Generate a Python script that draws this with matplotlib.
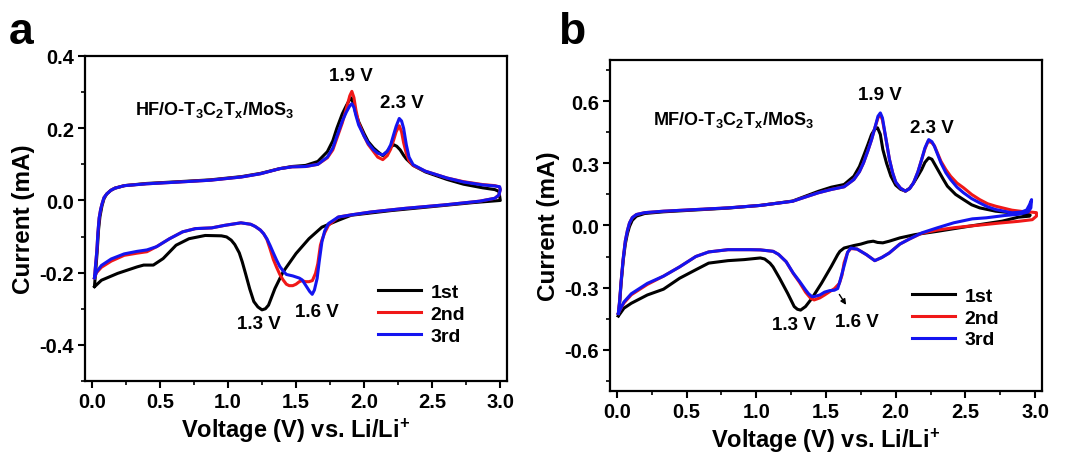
import matplotlib
matplotlib.use("Agg")
import matplotlib.pyplot as plt
from matplotlib.ticker import MultipleLocator

plt.rcParams["font.family"] = ["Liberation Sans", "DejaVu Sans"]
plt.rcParams["font.weight"] = "bold"
plt.rcParams["axes.unicode_minus"] = False
plt.rcParams["mathtext.fontset"] = "custom"
plt.rcParams["mathtext.rm"] = "Liberation Sans:bold"
plt.rcParams["mathtext.bf"] = "Liberation Sans:bold"
plt.rcParams["mathtext.default"] = "bf"

# ---- panel a: HF/O-T3C2Tx/MoS3, one closed loop per cycle (anodic 0->3 V, then cathodic 3->0 V)
a_1st_v = [0.02, 0.03, 0.04, 0.05, 0.06, 0.075, 0.09, 0.11, 0.14, 0.17, 0.24, 0.4, 0.64, 0.87, 1.1, 1.24,
           1.38, 1.47, 1.57, 1.66, 1.73, 1.77, 1.8, 1.84, 1.87, 1.895, 1.905, 1.92, 1.94, 1.96, 2.0, 2.03,
           2.07, 2.1, 2.137, 2.17, 2.195, 2.219, 2.24, 2.265, 2.29, 2.31, 2.36, 2.45, 2.61, 2.73, 2.87, 2.96,
           2.99,
           3.0, 2.8, 2.5, 2.2, 1.905, 1.81, 1.69, 1.595, 1.5, 1.405, 1.345, 1.298, 1.275, 1.25, 1.22, 1.19,
           1.16, 1.131, 1.105, 1.083, 1.05, 1.024, 0.99, 0.952, 0.833, 0.714, 0.619, 0.524, 0.452, 0.381,
           0.333, 0.19, 0.071, 0.02]
a_1st_i = [-0.237, -0.19, -0.14, -0.08, -0.045, -0.015, 0.005, 0.018, 0.028, 0.034, 0.041, 0.047, 0.052,
           0.057, 0.066, 0.075, 0.088, 0.094, 0.097, 0.108, 0.135, 0.165, 0.2, 0.24, 0.263, 0.28, 0.284,
           0.27, 0.24, 0.218, 0.185, 0.163, 0.145, 0.135, 0.124, 0.136, 0.148, 0.154, 0.15, 0.14, 0.125,
           0.115, 0.097, 0.079, 0.058, 0.045, 0.035, 0.03, 0.025,
           0.0, -0.006, -0.017, -0.028, -0.041, -0.055, -0.074, -0.106, -0.147, -0.198, -0.244, -0.29,
           -0.3, -0.303, -0.295, -0.28, -0.245, -0.205, -0.17, -0.145, -0.122, -0.11, -0.101, -0.098,
           -0.097, -0.106, -0.124, -0.161, -0.179, -0.179, -0.184, -0.202, -0.221, -0.239]

a_2nd_v = [0.02, 0.03, 0.037, 0.045, 0.054, 0.065, 0.075, 0.09, 0.11, 0.14, 0.17, 0.24, 0.4, 0.64, 0.87,
           1.1, 1.24, 1.38, 1.47, 1.57, 1.66, 1.73, 1.77, 1.8, 1.84, 1.87, 1.895, 1.91, 1.925, 1.94, 1.96,
           2.0, 2.03, 2.07, 2.1, 2.137, 2.17, 2.195, 2.215, 2.235, 2.258, 2.275, 2.29, 2.31, 2.33, 2.36,
           2.45, 2.61, 2.73, 2.87, 2.96, 2.995,
           3.0, 2.99, 2.96, 2.85, 2.6, 2.3, 2.05, 1.905, 1.81, 1.738, 1.71, 1.69, 1.679, 1.66, 1.643, 1.62,
           1.595, 1.57, 1.545, 1.524, 1.5, 1.476, 1.45, 1.429, 1.405, 1.381, 1.357, 1.333, 1.31, 1.286,
           1.262, 1.238, 1.2, 1.167, 1.095, 0.976, 0.881, 0.762, 0.667, 0.571, 0.476, 0.405, 0.333, 0.238,
           0.143, 0.071, 0.035, 0.02]
a_2nd_i = [-0.214, -0.17, -0.141, -0.09, -0.049, -0.025, -0.01, 0.008, 0.018, 0.028, 0.034, 0.041, 0.046,
           0.051, 0.056, 0.065, 0.074, 0.088, 0.093, 0.094, 0.1, 0.118, 0.14, 0.172, 0.215, 0.255, 0.29,
           0.302, 0.285, 0.25, 0.215, 0.178, 0.155, 0.135, 0.12, 0.113, 0.124, 0.142, 0.165, 0.19, 0.207,
           0.19, 0.16, 0.13, 0.11, 0.097, 0.081, 0.062, 0.052, 0.044, 0.041, 0.037,
           0.03, 0.015, 0.006, -0.002, -0.012, -0.022, -0.032, -0.04, -0.046, -0.069, -0.09, -0.11, -0.124,
           -0.175, -0.202, -0.222, -0.225, -0.225, -0.222, -0.225, -0.232, -0.236, -0.236, -0.232, -0.22,
           -0.205, -0.185, -0.163, -0.135, -0.108, -0.092, -0.082, -0.072, -0.066, -0.062, -0.069, -0.076,
           -0.078, -0.087, -0.106, -0.128, -0.142, -0.146, -0.152, -0.168, -0.185, -0.2, -0.214]

a_3rd_v = [0.02, 0.03, 0.037, 0.045, 0.054, 0.065, 0.075, 0.09, 0.11, 0.14, 0.17, 0.24, 0.4, 0.64, 0.87,
           1.1, 1.24, 1.38, 1.47, 1.57, 1.66, 1.73, 1.77, 1.8, 1.84, 1.87, 1.895, 1.91, 1.925, 1.94, 1.96,
           2.0, 2.03, 2.07, 2.1, 2.137, 2.17, 2.195, 2.215, 2.235, 2.258, 2.275, 2.29, 2.31, 2.33, 2.36,
           2.45, 2.61, 2.73, 2.87, 2.96, 2.995,
           3.0, 2.99, 2.96, 2.85, 2.6, 2.3, 2.05, 1.905, 1.81, 1.738, 1.71, 1.69, 1.67, 1.655, 1.635, 1.619,
           1.6, 1.571, 1.545, 1.524, 1.476, 1.429, 1.405, 1.381, 1.357, 1.333, 1.31, 1.286, 1.262, 1.238,
           1.2, 1.167, 1.095, 0.976, 0.881, 0.762, 0.667, 0.571, 0.476, 0.405, 0.333, 0.238, 0.143, 0.071,
           0.035, 0.02]
a_3rd_i = [-0.214, -0.17, -0.141, -0.09, -0.049, -0.025, -0.01, 0.008, 0.018, 0.028, 0.034, 0.041, 0.046,
           0.051, 0.056, 0.065, 0.074, 0.088, 0.093, 0.094, 0.1, 0.12, 0.145, 0.178, 0.22, 0.245, 0.262,
           0.268, 0.258, 0.235, 0.209, 0.178, 0.158, 0.14, 0.131, 0.126, 0.136, 0.154, 0.18, 0.205, 0.227,
           0.22, 0.2, 0.154, 0.12, 0.099, 0.081, 0.062, 0.051, 0.043, 0.04, 0.038,
           0.03, 0.015, 0.006, -0.002, -0.012, -0.022, -0.032, -0.04, -0.046, -0.064, -0.085, -0.115, -0.17,
           -0.216, -0.248, -0.26, -0.252, -0.235, -0.22, -0.215, -0.209, -0.205, -0.195, -0.183, -0.165,
           -0.145, -0.125, -0.106, -0.092, -0.082, -0.072, -0.066, -0.062, -0.069, -0.076, -0.078, -0.087,
           -0.106, -0.128, -0.137, -0.141, -0.148, -0.162, -0.18, -0.198, -0.214]

# ---- panel b: MF/O-T3C2Tx/MoS3
b_1st_v = [0.01, 0.02, 0.03, 0.045, 0.06, 0.075, 0.09, 0.11, 0.14, 0.2, 0.334, 0.566, 0.797, 1.029, 1.26,
           1.445, 1.538, 1.63, 1.7, 1.74, 1.769, 1.8, 1.827, 1.85, 1.87, 1.89, 1.908, 1.935, 1.966, 2.0,
           2.035, 2.07, 2.1, 2.128, 2.16, 2.186, 2.21, 2.237, 2.26, 2.302, 2.34, 2.371, 2.43, 2.487, 2.545,
           2.603, 2.718, 2.834, 2.95, 2.965,
           2.96, 2.88, 2.765, 2.533, 2.302, 2.14, 2.03, 1.954, 1.908, 1.87, 1.839, 1.8, 1.75, 1.7, 1.63,
           1.6, 1.584, 1.538, 1.468, 1.399, 1.353, 1.318, 1.295, 1.272, 1.225, 1.167, 1.12, 1.098, 1.06,
           1.029, 0.913, 0.797, 0.658, 0.566, 0.45, 0.334, 0.218, 0.103, 0.05, 0.01]
b_1st_i = [-0.435, -0.37, -0.28, -0.17, -0.09, -0.04, -0.005, 0.025, 0.045, 0.058, 0.066, 0.075, 0.084,
           0.097, 0.118, 0.165, 0.185, 0.198, 0.238, 0.285, 0.335, 0.39, 0.44, 0.465, 0.472, 0.44, 0.367,
           0.3, 0.238, 0.195, 0.175, 0.166, 0.18, 0.205, 0.24, 0.27, 0.305, 0.327, 0.32, 0.27, 0.225, 0.19,
           0.15, 0.125, 0.1, 0.085, 0.069, 0.061, 0.055, 0.05,
           0.045, 0.04, 0.021, -0.003, -0.028, -0.044, -0.06, -0.076, -0.084, -0.082, -0.076, -0.08, -0.09,
           -0.097, -0.109, -0.125, -0.141, -0.198, -0.279, -0.352, -0.392, -0.409, -0.405, -0.392, -0.328,
           -0.255, -0.2, -0.182, -0.162, -0.157, -0.165, -0.17, -0.182, -0.214, -0.255, -0.308, -0.336,
           -0.376, -0.4, -0.438]

b_2nd_v = [0.01, 0.02, 0.03, 0.045, 0.06, 0.075, 0.09, 0.11, 0.14, 0.2, 0.334, 0.566, 0.797, 1.029, 1.26,
           1.445, 1.538, 1.63, 1.7, 1.74, 1.769, 1.8, 1.827, 1.85, 1.873, 1.89, 1.905, 1.92, 1.935, 1.955,
           1.978, 2.0, 2.035, 2.07, 2.1, 2.128, 2.16, 2.186, 2.21, 2.232, 2.26, 2.278, 2.3, 2.325, 2.36,
           2.394, 2.44, 2.487, 2.545, 2.603, 2.66, 2.718, 2.834, 2.903, 2.95, 3.01,
           3.01, 2.98, 2.88, 2.75, 2.65, 2.5, 2.417, 2.3, 2.186, 2.1, 2.03, 1.954, 1.9, 1.85, 1.79, 1.723,
           1.677, 1.655, 1.63, 1.615, 1.596, 1.561, 1.526, 1.49, 1.456, 1.415, 1.39, 1.353, 1.31, 1.265,
           1.214, 1.16, 1.121, 1.029, 0.954, 0.797, 0.658, 0.566, 0.45, 0.334, 0.218, 0.103, 0.05, 0.02,
           0.01]
b_2nd_i = [-0.425, -0.36, -0.27, -0.16, -0.075, -0.025, 0.012, 0.038, 0.053, 0.062, 0.069, 0.077, 0.085,
           0.097, 0.117, 0.158, 0.174, 0.187, 0.222, 0.26, 0.302, 0.36, 0.415, 0.47, 0.52, 0.536, 0.51,
           0.455, 0.4, 0.32, 0.255, 0.21, 0.18, 0.166, 0.178, 0.206, 0.26, 0.318, 0.37, 0.407, 0.4, 0.385,
           0.35, 0.31, 0.27, 0.238, 0.205, 0.182, 0.15, 0.125, 0.105, 0.093, 0.074, 0.068, 0.066, 0.062,
           0.045, 0.028, 0.02, 0.012, 0.005, -0.005, -0.011, -0.022, -0.038, -0.065, -0.09, -0.133, -0.155,
           -0.17, -0.141, -0.114, -0.112, -0.13, -0.18, -0.24, -0.28, -0.305, -0.32, -0.336, -0.35, -0.36,
           -0.352, -0.322, -0.275, -0.232, -0.175, -0.14, -0.125, -0.118, -0.117, -0.117, -0.128, -0.15,
           -0.2, -0.245, -0.285, -0.335, -0.375, -0.41, -0.425]

b_3rd_v = [0.01, 0.02, 0.03, 0.045, 0.06, 0.075, 0.09, 0.11, 0.14, 0.2, 0.334, 0.566, 0.797, 1.029, 1.26,
           1.445, 1.538, 1.63, 1.7, 1.74, 1.769, 1.8, 1.827, 1.85, 1.873, 1.89, 1.905, 1.92, 1.935, 1.955,
           1.978, 2.0, 2.035, 2.07, 2.1, 2.128, 2.16, 2.186, 2.21, 2.237, 2.26, 2.278, 2.3, 2.325, 2.36,
           2.394, 2.44, 2.487, 2.545, 2.603, 2.66, 2.718, 2.834, 2.903, 2.94, 2.96, 2.975,
           2.97, 2.95, 2.88, 2.78, 2.649, 2.55, 2.417, 2.3, 2.186, 2.1, 2.03, 1.954, 1.9, 1.85, 1.79, 1.723,
           1.677, 1.655, 1.642, 1.62, 1.6, 1.584, 1.56, 1.526, 1.49, 1.456, 1.42, 1.399, 1.375, 1.353,
           1.31, 1.265, 1.214, 1.16, 1.121, 1.029, 0.954, 0.797, 0.658, 0.566, 0.45, 0.334, 0.218, 0.103,
           0.05, 0.02, 0.01]
b_3rd_i = [-0.425, -0.36, -0.27, -0.16, -0.075, -0.025, 0.012, 0.038, 0.053, 0.062, 0.069, 0.077, 0.085,
           0.097, 0.117, 0.158, 0.174, 0.187, 0.222, 0.26, 0.302, 0.36, 0.415, 0.47, 0.528, 0.544, 0.52,
           0.46, 0.4, 0.32, 0.255, 0.21, 0.18, 0.166, 0.178, 0.206, 0.26, 0.318, 0.375, 0.415, 0.405, 0.383,
           0.345, 0.302, 0.255, 0.222, 0.185, 0.158, 0.13, 0.109, 0.09, 0.077, 0.061, 0.065, 0.075, 0.1,
           0.125,
           0.085, 0.065, 0.054, 0.048, 0.037, 0.032, 0.013, -0.011, -0.036, -0.065, -0.09, -0.133, -0.155,
           -0.17, -0.141, -0.114, -0.109, -0.13, -0.165, -0.22, -0.27, -0.305, -0.313, -0.315, -0.322,
           -0.336, -0.343, -0.344, -0.33, -0.311, -0.27, -0.23, -0.175, -0.14, -0.125, -0.118, -0.117,
           -0.117, -0.128, -0.15, -0.2, -0.245, -0.28, -0.33, -0.37, -0.41, -0.425]

cycle_labels = ["1st", "2nd", "3rd"]
cycle_colors = ["#000000", "#f01818", "#1414f0"]

fig = plt.figure(figsize=(10.66, 4.56), dpi=100)
fig.patch.set_facecolor("white")


def style_axes(ax, ylim, ymajor, yminor):
    ax.set_xlim(-0.05, 3.05)
    ax.set_ylim(*ylim)
    ax.xaxis.set_major_locator(MultipleLocator(0.5))
    ax.xaxis.set_minor_locator(MultipleLocator(0.25))
    ax.yaxis.set_major_locator(MultipleLocator(ymajor))
    ax.yaxis.set_minor_locator(MultipleLocator(yminor))
    ax.xaxis.set_major_formatter(plt.FormatStrFormatter("%.1f"))
    ax.yaxis.set_major_formatter(plt.FormatStrFormatter("%.1f"))
    ax.tick_params(which="major", direction="out", length=5, width=1.5, labelsize=14.5, pad=3)
    ax.tick_params(which="minor", direction="out", length=3, width=1.2)
    for s in ax.spines.values():
        s.set_linewidth(1.6)
    for lab in ax.get_xticklabels() + ax.get_yticklabels():
        lab.set_fontweight("bold")
    ax.set_xlabel("Voltage (V) vs. Li/Li$^{+}$", fontsize=17, fontweight="bold", labelpad=3)
    ax.set_ylabel("Current (mA)", fontsize=17.5, fontweight="bold", labelpad=3)


# panel a
ax1 = fig.add_axes([0.0797, 0.1623, 0.396, 0.7127])
for v, i, lab, c in zip([a_1st_v, a_2nd_v, a_3rd_v], [a_1st_i, a_2nd_i, a_3rd_i], cycle_labels, cycle_colors):
    ax1.plot(v, i, color=c, lw=2.2, label=lab, solid_joinstyle="round")
style_axes(ax1, (-0.5, 0.4), 0.2, 0.1)
ax1.set_yticks([-0.4, -0.2, 0.0, 0.2, 0.4])
ax1.text(0.32, 0.238, "HF/O-T$_3$C$_2$T$_x$/MoS$_3$", fontsize=13, fontweight="bold", va="baseline")
ax1.text(1.90, 0.345, "1.9 V", fontsize=13.5, fontweight="bold", ha="center", va="center")
ax1.text(2.28, 0.27, "2.3 V", fontsize=13.5, fontweight="bold", ha="center", va="center")
ax1.text(1.225, -0.34, "1.3 V", fontsize=13.5, fontweight="bold", ha="center", va="center")
ax1.text(1.65, -0.307, "1.6 V", fontsize=13.5, fontweight="bold", ha="center", va="center")
ax1.legend(loc="upper left", bbox_to_anchor=(0.694, 0.30), frameon=False, fontsize=14,
           handlelength=2.2, handletextpad=0.5, labelspacing=0.22, borderpad=0, borderaxespad=0)

# panel b
ax2 = fig.add_axes([0.5722, 0.1404, 0.4053, 0.7259])
for v, i, lab, c in zip([b_1st_v, b_2nd_v, b_3rd_v], [b_1st_i, b_2nd_i, b_3rd_i], cycle_labels, cycle_colors):
    ax2.plot(v, i, color=c, lw=2.2, label=lab, solid_joinstyle="round")
style_axes(ax2, (-0.8, 0.8), 0.3, 0.15)
ax2.set_yticks([-0.6, -0.3, 0.0, 0.3, 0.6])
ax2.text(0.26, 0.49, "MF/O-T$_3$C$_2$T$_x$/MoS$_3$", fontsize=13, fontweight="bold", va="baseline")
ax2.text(1.89, 0.634, "1.9 V", fontsize=13.5, fontweight="bold", ha="center", va="center")
ax2.text(2.26, 0.473, "2.3 V", fontsize=13.5, fontweight="bold", ha="center", va="center")
ax2.text(1.27, -0.477, "1.3 V", fontsize=13.5, fontweight="bold", ha="center", va="center")
ax2.text(1.72, -0.465, "1.6 V", fontsize=13.5, fontweight="bold", ha="center", va="center")
ax2.annotate("", xy=(1.655, -0.395), xytext=(1.585, -0.322),
             arrowprops=dict(arrowstyle="-|>", color="black", lw=1.0, mutation_scale=8))
ax2.legend(loc="upper left", bbox_to_anchor=(0.699, 0.314), frameon=False, fontsize=14,
           handlelength=2.2, handletextpad=0.5, labelspacing=0.22, borderpad=0, borderaxespad=0)

fig.text(9 / 1066, 1 - 44 / 456, "a", fontsize=32, fontweight="bold", va="baseline")
fig.text(558 / 1066, 1 - 44 / 456, "b", fontsize=32, fontweight="bold", va="baseline")

fig.savefig("out.png", dpi=100, facecolor="white")
